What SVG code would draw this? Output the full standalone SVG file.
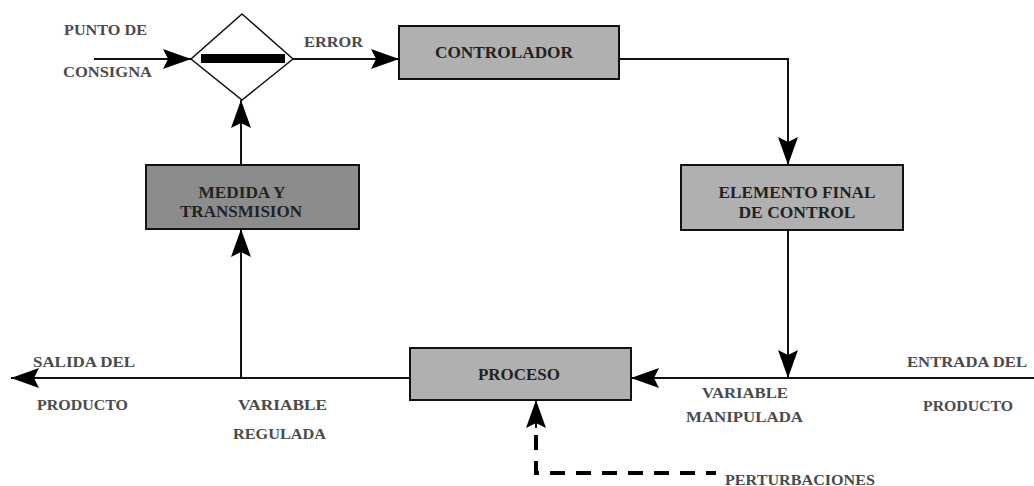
<svg xmlns="http://www.w3.org/2000/svg" width="1034" height="486" viewBox="0 0 1034 486">
<style>
.box{stroke:#111;stroke-width:2}
.lbl{font-family:"Liberation Serif","DejaVu Serif",serif;font-weight:bold;font-size:16px;fill:#222;text-anchor:middle}
.out{font-family:"Liberation Serif","DejaVu Serif",serif;font-size:15px;fill:#4a4a4a;text-anchor:middle;font-weight:bold}
.ln{stroke:#111;stroke-width:2;fill:none}
</style>
<defs>
<marker id="ah" markerUnits="userSpaceOnUse" markerWidth="32" markerHeight="24" refX="28" refY="10" orient="auto">
<path d="M0,0 L28,10 L0,20 L5,10 Z" fill="#000"/>
</marker>
</defs>
<rect width="1034" height="486" fill="#fff"/>
<g id="comparador">
<polygon points="242,14 293,59 242,100 191,59" fill="#fff" stroke="#111" stroke-width="1.5"/>
<rect x="201" y="54" width="84" height="9" fill="#000"/>
</g>
<g id="controlador">
<rect class="box" x="399" y="26" width="220" height="53" fill="#b0b0b0"/>
<text class="lbl" x="504" y="58" textLength="138" lengthAdjust="spacingAndGlyphs">CONTROLADOR</text>
</g>
<g id="elemento">
<rect class="box" x="681" y="165" width="222" height="65" fill="#b0b0b0"/>
<text class="lbl" x="797" y="198" textLength="157" lengthAdjust="spacingAndGlyphs">ELEMENTO FINAL</text>
<text class="lbl" x="797" y="218" textLength="117" lengthAdjust="spacingAndGlyphs">DE CONTROL</text>
</g>
<g id="medida">
<rect class="box" x="146" y="165" width="213" height="64" fill="#8c8c8c"/>
<text class="lbl" x="242" y="198" textLength="87" lengthAdjust="spacingAndGlyphs">MEDIDA Y</text>
<text class="lbl" x="241" y="217" textLength="122" lengthAdjust="spacingAndGlyphs">TRANSMISION</text>
</g>
<g id="proceso">
<rect class="box" x="410" y="348" width="221" height="52" fill="#b0b0b0"/>
<text class="lbl" x="519" y="380" textLength="82" lengthAdjust="spacingAndGlyphs">PROCESO</text>
</g>
<g id="connectors">
<line class="ln" x1="94" y1="59" x2="191" y2="59" marker-end="url(#ah)"/>
<line class="ln" x1="293" y1="59" x2="399" y2="59" marker-end="url(#ah)"/>
<polyline class="ln" points="619,59 788,59 788,165" marker-end="url(#ah)"/>
<line class="ln" x1="788" y1="230" x2="788" y2="378" marker-end="url(#ah)"/>
<line class="ln" x1="1034" y1="378" x2="631" y2="378" marker-end="url(#ah)"/>
<line class="ln" x1="410" y1="378" x2="11" y2="378" marker-end="url(#ah)"/>
<line class="ln" x1="241" y1="378" x2="241" y2="229" marker-end="url(#ah)"/>
<line class="ln" x1="241" y1="165" x2="241" y2="100" marker-end="url(#ah)"/>
<polyline points="536,435 536,473 716,473" fill="none" stroke="#000" stroke-width="4" stroke-dasharray="15,11"/>
<line class="ln" x1="536" y1="428" x2="536" y2="400" marker-end="url(#ah)"/>
</g>
<g id="labels">
<text class="out" x="105.5" y="35" textLength="83" lengthAdjust="spacingAndGlyphs">PUNTO DE</text>
<text class="out" x="107.5" y="77" textLength="89" lengthAdjust="spacingAndGlyphs">CONSIGNA</text>
<text class="out" x="333.5" y="47" textLength="59" lengthAdjust="spacingAndGlyphs">ERROR</text>
<text class="out" x="84" y="367" textLength="102" lengthAdjust="spacingAndGlyphs">SALIDA DEL</text>
<text class="out" x="82.5" y="410" textLength="91" lengthAdjust="spacingAndGlyphs">PRODUCTO</text>
<text class="out" x="282.5" y="410" textLength="89" lengthAdjust="spacingAndGlyphs">VARIABLE</text>
<text class="out" x="279.5" y="439" textLength="93" lengthAdjust="spacingAndGlyphs">REGULADA</text>
<text class="out" x="745" y="398" textLength="86" lengthAdjust="spacingAndGlyphs">VARIABLE</text>
<text class="out" x="744.5" y="422" textLength="117" lengthAdjust="spacingAndGlyphs">MANIPULADA</text>
<text class="out" x="967" y="367" textLength="120" lengthAdjust="spacingAndGlyphs">ENTRADA DEL</text>
<text class="out" x="968" y="411" textLength="90" lengthAdjust="spacingAndGlyphs">PRODUCTO</text>
<text class="out" x="800" y="485" textLength="150" lengthAdjust="spacingAndGlyphs">PERTURBACIONES</text>
</g>
</svg>
